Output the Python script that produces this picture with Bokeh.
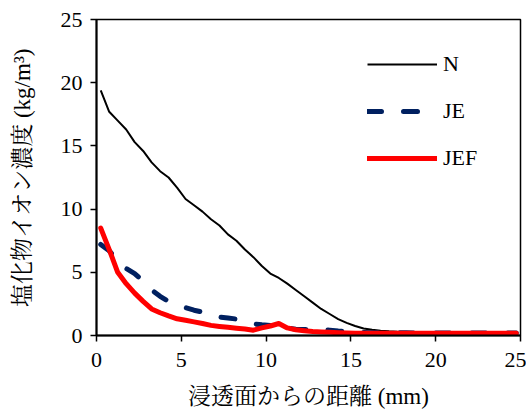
from bokeh.plotting import figure
from bokeh.models import Range1d, Legend, LegendItem, FixedTicker
from bokeh.embed import file_html
from bokeh.resources import INLINE

distance_mm = [0.25, 0.75, 1.25, 1.75, 2.25, 2.75, 3.25, 3.75, 4.25, 4.75,
               5.25, 5.75, 6.25, 6.75, 7.25, 7.75, 8.25, 8.75, 9.25, 9.75,
               10.25, 10.75, 11.25, 11.75, 12.25, 12.75, 13.25, 13.75, 14.25, 14.75,
               15.25, 15.75, 16.25, 16.75, 17.25, 17.75, 18.25, 18.75, 19.25, 19.75,
               20.25, 20.75, 21.25, 21.75, 22.25, 22.75, 23.25, 23.75, 24.25, 24.75]

conc_N = [19.4, 17.7, 17.0, 16.3, 15.3, 14.6, 13.7, 13.0, 12.5, 11.7,
          10.8, 10.3, 9.8, 9.2, 8.7, 8.0, 7.5, 6.8, 6.2, 5.5,
          4.9, 4.55, 4.1, 3.6, 3.1, 2.6, 2.1, 1.7, 1.3, 1.0,
          0.75, 0.55, 0.45, 0.38, 0.33, 0.30, 0.28, 0.27, 0.27, 0.26,
          0.26, 0.25, 0.25, 0.25, 0.24, 0.24, 0.24, 0.23, 0.23, 0.22]

conc_JE = [7.2, 6.7, 5.9, 5.3, 4.9, 4.3, 3.6, 3.1, 2.7, 2.45,
           2.2, 2.0, 1.85, 1.65, 1.45, 1.38, 1.3, 1.1, 0.92, 0.85,
           0.8, 0.7, 0.6, 0.5, 0.48, 0.46, 0.45, 0.42, 0.35, 0.3,
           0.25, 0.23, 0.22, 0.22, 0.21, 0.21, 0.21, 0.2, 0.2, 0.2,
           0.2, 0.2, 0.2, 0.2, 0.2, 0.2, 0.2, 0.2, 0.2, 0.2]

conc_JEF = [8.5, 6.8, 5.0, 4.1, 3.35, 2.7, 2.1, 1.8, 1.55, 1.32,
            1.2, 1.08, 0.95, 0.8, 0.72, 0.65, 0.58, 0.52, 0.42, 0.6,
            0.75, 0.95, 0.6, 0.45, 0.38, 0.32, 0.28, 0.25, 0.22, 0.2,
            0.18, 0.18, 0.18, 0.18, 0.18, 0.18, 0.18, 0.18, 0.18, 0.18,
            0.18, 0.18, 0.18, 0.18, 0.18, 0.18, 0.18, 0.18, 0.18, 0.18]

series_labels = ["N", "JE", "JEF"]
axis_ticks = [0, 5, 10, 15, 20, 25]
x_title = "浸透面からの距離 (mm)"
y_title = "塩化物イオン濃度 (kg/m³)"

FONT = "'Liberation Serif', 'Noto Serif CJK JP', 'Noto Sans CJK JP', serif"

p = figure(width=526, height=412, output_backend="svg", toolbar_location=None,
           x_range=Range1d(0, 25), y_range=Range1d(0, 25))
p.min_border_left = 96
p.min_border_right = 6
p.min_border_top = 19
p.min_border_bottom = 77

p.xgrid.visible = False
p.ygrid.visible = False
p.outline_line_color = "black"
p.outline_line_width = 1.5

for ax in (p.xaxis[0], p.yaxis[0]):
    ax.ticker = FixedTicker(ticks=axis_ticks)
    ax.minor_tick_line_color = None
    ax.major_tick_out = 6
    ax.major_tick_in = 0
    ax.axis_line_width = 2
    ax.major_tick_line_width = 1.5
    ax.axis_line_color = "black"
    ax.major_tick_line_color = "black"
    ax.major_label_text_font = FONT
    ax.major_label_text_font_size = "22px"
    ax.major_label_text_color = "black"
    ax.axis_label_text_font = FONT
    ax.axis_label_text_font_size = "23px"
    ax.axis_label_text_font_style = "normal"
    ax.axis_label_text_color = "black"

p.xaxis.axis_label = x_title
p.yaxis.axis_label = y_title
p.xaxis.major_label_text_line_height = 1.0
p.xaxis.axis_label_text_line_height = 1.0
p.xaxis.major_label_standoff = 11
p.xaxis.axis_label_standoff = 14
p.yaxis.major_label_standoff = 8
p.yaxis.axis_label_standoff = 23

rN = p.line(distance_mm, conc_N, line_color="black", line_width=2)
rJE = p.line(distance_mm, conc_JE, line_color="#002060", line_width=5,
             line_dash="14 22", line_cap="round")
rJEF = p.line(distance_mm, conc_JEF, line_color="#FF0000", line_width=5,
              line_cap="round", line_join="round")

legend = Legend(items=[LegendItem(label=series_labels[0], renderers=[rN]),
                       LegendItem(label=series_labels[1], renderers=[rJE]),
                       LegendItem(label=series_labels[2], renderers=[rJEF])],
                location=(271, 164))
legend.border_line_color = None
legend.background_fill_alpha = 0
legend.padding = 0
legend.margin = 0
legend.spacing = 21
legend.glyph_width = 70
legend.glyph_height = 20
legend.label_height = 20
legend.label_standoff = 6
legend.label_text_font = FONT
legend.label_text_font_size = "22px"
legend.label_text_color = "black"
p.add_layout(legend)

open("out.html", "w").write(file_html(p, INLINE))
